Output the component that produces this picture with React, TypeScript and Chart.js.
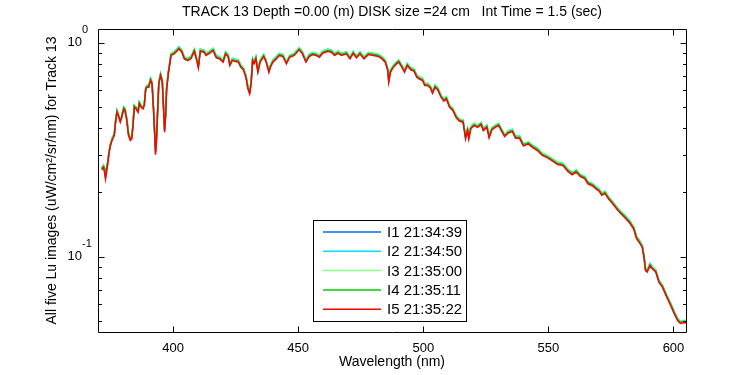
import React, { useEffect, useRef } from "react";
import { Chart, registerables } from "chart.js";

Chart.register(...registerables);

const WAVELENGTH = [
  371.5, 372.2, 372.7, 373.0, 373.8, 374.4, 374.8, 375.6, 376.5, 377.1,
  377.6, 378.1, 378.9, 379.5, 380.3, 380.8, 381.5, 382.2, 382.9, 383.5,
  384.0, 384.5, 385.2, 386.0, 386.5, 387.3, 388.0, 388.5, 389.1, 389.7,
  390.3, 391.0, 391.6, 392.3, 393.0, 393.4, 393.8, 394.3, 395.0, 395.7,
  396.4, 396.6, 397.0, 397.4, 398.1, 398.7, 399.2, 400.4, 401.8, 402.3,
  403.5, 404.5, 405.8, 407.2, 408.5, 409.6, 410.1, 410.9, 412.3, 413.2,
  414.6, 416.0, 417.3, 418.6, 420.0, 421.0, 422.0, 422.7, 423.7, 424.7,
  426.1, 427.1, 428.1, 429.1, 429.9, 430.6, 431.2, 431.8, 432.4, 433.1,
  433.9, 434.8, 436.2, 437.2, 438.3, 438.9, 439.9, 441.2, 442.5, 443.9,
  445.3, 446.6, 448.4, 450.4, 451.7, 453.1, 454.4, 455.8, 457.1, 458.5,
  459.8, 461.9, 463.2, 464.6, 465.9, 467.3, 469.3, 470.7, 472.0, 473.3,
  474.7, 476.3, 478.1, 480.1, 482.1, 483.5, 484.8, 485.8, 486.2, 486.9,
  487.9, 489.3, 490.2, 491.6, 492.5, 493.6, 495.0, 496.3, 497.4, 498.3,
  499.7, 500.6, 501.7, 502.8, 503.7, 504.7, 505.8, 507.1, 508.2, 509.2,
  510.5, 511.8, 513.2, 514.5, 515.9, 516.9, 517.7, 518.2, 519.0, 520.3,
  521.7, 523.1, 524.0, 525.4, 526.3, 527.4, 528.7, 530.1, 531.2, 532.5,
  534.1, 535.6, 536.9, 538.5, 540.0, 542.0, 543.6, 545.6, 547.6, 549.7,
  551.7, 553.7, 555.8, 557.8, 559.5, 561.1, 562.8, 564.5, 565.9, 567.6,
  569.0, 570.3, 571.3, 572.6, 574.0, 575.7, 577.4, 579.0, 580.7, 582.5,
  584.1, 585.2, 586.5, 587.5, 588.2, 588.8, 589.5, 590.6, 591.5, 592.9,
  594.2, 595.6, 597.3, 598.9, 600.3, 601.7, 602.8, 604.4, 605.4,
];

const I1 = [
  .259, .266, .250, .236, .271, .308, .330, .356, .375, .440,
  .481, .464, .433, .456, .498, .490, .440, .375, .357, .362,
  .418, .508, .499, .481, .527, .508, .499, .517, .620, .630,
  .630, .677, .653, .466, .308, .363, .474, .653, .714, .665,
  .441, .390, .457, .607, .727, .810, .886, .901, .934, .952,
  .918, .854, .838, .858, .927, .824, .776, .927, .918, .886,
  .907, .934, .864, .854, .824, .901, .876, .795, .838, .832,
  .824, .781, .759, .701, .619, .587, .653, .838, .810, .854,
  .740, .824, .876, .824, .740, .781, .824, .854, .886, .876,
  .810, .869, .886, .941, .901, .824, .876, .895, .886, .869,
  .907, .927, .918, .886, .907, .886, .901, .854, .905, .864,
  .901, .854, .895, .886, .876, .854, .824, .753, .665, .740,
  .775, .810, .824, .775, .740, .795, .759, .748, .701, .689,
  .677, .641, .641, .625, .590, .629, .612, .565, .542, .555,
  .508, .490, .453, .436, .432, .361, .395, .361, .403, .417,
  .409, .421, .395, .409, .365, .398, .409, .417, .395, .370,
  .386, .391, .363, .363, .335, .342, .330, .319, .302, .294,
  .284, .274, .271, .255, .246, .253, .241, .235, .222, .218,
  .211, .206, .197, .201, .190, .180, .170, .161, .154, .146,
  .137, .124, .118, .113, .101, .0877, .0863, .0924, .0893, .0863,
  .0772, .0732, .0659, .0602, .0551, .0511, .0496, .0501, .0497,
];

const I2 = [
  .262, .269, .252, .240, .274, .311, .333, .359, .378, .444,
  .486, .468, .437, .460, .503, .495, .446, .381, .362, .366,
  .421, .513, .503, .486, .532, .513, .503, .522, .625, .636,
  .636, .684, .659, .472, .312, .369, .480, .659, .721, .671,
  .447, .397, .463, .613, .734, .818, .895, .910, .943, .961,
  .927, .862, .847, .866, .936, .832, .793, .936, .927, .895,
  .916, .943, .872, .862, .832, .910, .885, .808, .847, .841,
  .832, .788, .767, .708, .632, .600, .662, .847, .818, .862,
  .747, .832, .885, .832, .747, .788, .832, .862, .895, .885,
  .818, .877, .895, .950, .910, .832, .885, .904, .895, .877,
  .916, .936, .927, .895, .916, .895, .910, .862, .914, .872,
  .910, .862, .904, .895, .885, .862, .832, .761, .680, .747,
  .783, .818, .832, .783, .747, .803, .767, .755, .708, .696,
  .684, .648, .648, .631, .596, .636, .618, .571, .547, .561,
  .513, .495, .457, .441, .437, .370, .399, .370, .407, .421,
  .413, .425, .399, .413, .374, .402, .413, .421, .399, .374,
  .390, .395, .367, .367, .338, .345, .333, .322, .305, .297,
  .287, .277, .274, .257, .248, .255, .243, .238, .224, .220,
  .213, .208, .199, .203, .192, .181, .171, .163, .156, .148,
  .138, .125, .119, .114, .102, .0890, .0872, .0933, .0902, .0871,
  .0780, .0739, .0665, .0608, .0557, .0516, .0501, .0506, .0502,
];

const I3 = [
  .262, .268, .252, .242, .273, .310, .332, .357, .377, .442,
  .483, .466, .436, .458, .501, .493, .445, .381, .362, .366,
  .420, .510, .501, .483, .529, .510, .501, .519, .622, .632,
  .632, .680, .656, .470, .315, .368, .478, .656, .717, .668,
  .446, .396, .462, .610, .730, .814, .890, .906, .938, .957,
  .922, .858, .843, .862, .931, .828, .785, .931, .922, .890,
  .912, .938, .868, .858, .828, .906, .880, .802, .843, .836,
  .828, .784, .763, .705, .628, .597, .658, .843, .814, .858,
  .744, .828, .880, .828, .744, .784, .828, .858, .890, .880,
  .814, .873, .890, .946, .906, .828, .880, .900, .890, .873,
  .912, .931, .922, .890, .912, .890, .906, .858, .910, .868,
  .906, .858, .900, .890, .880, .858, .828, .757, .675, .744,
  .779, .814, .828, .779, .744, .799, .763, .752, .705, .693,
  .680, .645, .645, .628, .593, .632, .615, .568, .545, .558,
  .510, .493, .455, .439, .435, .368, .397, .368, .405, .419,
  .411, .423, .397, .411, .372, .400, .411, .419, .397, .374,
  .388, .393, .366, .365, .337, .344, .332, .320, .304, .296,
  .286, .275, .272, .256, .247, .254, .242, .237, .223, .219,
  .212, .207, .198, .202, .191, .181, .170, .162, .155, .147,
  .138, .125, .118, .113, .102, .0890, .0870, .0928, .0898, .0867,
  .0776, .0735, .0662, .0605, .0554, .0513, .0499, .0504, .0500,
];

const I4 = [
  .258, .265, .260, .240, .275, .308, .330, .354, .373, .438,
  .479, .462, .432, .454, .497, .488, .440, .376, .357, .362,
  .416, .506, .497, .479, .525, .505, .497, .515, .617, .627,
  .627, .676, .651, .466, .312, .366, .474, .650, .711, .662,
  .442, .393, .458, .605, .724, .806, .882, .897, .929, .947,
  .913, .850, .834, .853, .922, .821, .775, .922, .913, .882,
  .903, .929, .860, .850, .821, .897, .872, .793, .834, .828,
  .821, .777, .756, .699, .620, .590, .652, .834, .806, .850,
  .738, .821, .872, .821, .738, .777, .821, .850, .882, .872,
  .806, .865, .882, .936, .897, .821, .872, .891, .882, .865,
  .903, .922, .913, .882, .903, .882, .897, .850, .901, .860,
  .897, .850, .891, .882, .872, .850, .821, .752, .670, .740,
  .772, .806, .821, .772, .738, .791, .756, .745, .699, .686,
  .674, .639, .639, .623, .590, .627, .610, .563, .540, .553,
  .505, .488, .451, .435, .431, .366, .394, .364, .401, .415,
  .407, .420, .394, .407, .368, .396, .407, .415, .393, .370,
  .384, .389, .363, .362, .334, .341, .329, .318, .301, .293,
  .283, .273, .270, .254, .245, .252, .240, .235, .222, .218,
  .211, .205, .197, .200, .189, .179, .169, .161, .154, .146,
  .137, .124, .117, .112, .101, .0880, .0862, .0920, .0890, .0860,
  .0770, .0730, .0657, .0600, .0550, .0509, .0495, .0500, .0496,
];

const I5 = [
  .255, .262, .245, .231, .267, .303, .325, .350, .369, .433,
  .474, .457, .426, .449, .491, .483, .433, .369, .350, .356,
  .411, .500, .491, .474, .519, .500, .491, .509, .610, .620,
  .620, .667, .643, .457, .300, .356, .466, .643, .703, .655,
  .433, .382, .449, .598, .716, .798, .873, .888, .920, .938,
  .904, .841, .826, .845, .913, .812, .764, .913, .904, .873,
  .894, .920, .851, .841, .812, .888, .863, .783, .826, .820,
  .812, .769, .748, .691, .610, .578, .643, .826, .798, .841,
  .729, .812, .863, .812, .729, .769, .812, .841, .873, .863,
  .798, .856, .873, .927, .888, .812, .863, .882, .873, .856,
  .894, .913, .904, .873, .894, .873, .888, .841, .892, .851,
  .888, .841, .882, .873, .863, .841, .812, .742, .655, .729,
  .764, .798, .812, .764, .729, .783, .748, .737, .691, .679,
  .667, .632, .632, .616, .581, .620, .603, .557, .534, .547,
  .500, .483, .446, .430, .426, .356, .389, .356, .397, .411,
  .403, .415, .389, .403, .360, .392, .403, .411, .389, .365,
  .380, .385, .358, .358, .330, .337, .325, .314, .298, .290,
  .280, .270, .267, .251, .242, .249, .237, .232, .219, .215,
  .208, .203, .194, .198, .187, .177, .167, .159, .152, .144,
  .135, .122, .116, .111, .0996, .0864, .0850, .0910, .0880, .0850,
  .0761, .0721, .0649, .0593, .0543, .0503, .0489, .0494, .0490,
];

const SERIES = [I1, I2, I3, I4, I5];
const SERIES_LABELS = ["I1 21:34:39", "I2 21:34:50", "I3 21:35:00", "I4 21:35:11", "I5 21:35:22"];
const SERIES_COLORS = ["#0070f0", "#00e0f0", "#88ff88", "#00cc00", "#ff0000"];

const X_MIN = 370;
const X_MAX = 605;
const X_TICKS = [400, 450, 500, 550, 600];
const Y_MIN = 0.0446;
const Y_MAX = 1.16;
const Y_MAJOR = [0.1, 1];
const Y_MAJOR_EXP = ["-1", "0"];
const Y_MINOR = [0.05, 0.06, 0.07, 0.08, 0.09, 0.2, 0.3, 0.4, 0.5, 0.6, 0.7, 0.8, 0.9];

const TITLE = "TRACK 13 Depth =0.00 (m) DISK size =24 cm   Int Time = 1.5 (sec)";
const X_TITLE = "Wavelength (nm)";
const Y_TITLE = "All five Lu images (uW/cm\u00B2/sr/nm) for Track 13";

const FONT = "'Liberation Sans', Arial, Helvetica, sans-serif";

const decorPlugin = {
  id: "matlabDecor",
  afterDraw(chart: any) {
    const { ctx, chartArea } = chart;
    const { left, right, top, bottom } = chartArea;
    const xs = chart.scales.x;
    const ys = chart.scales.y;
    ctx.save();
    ctx.strokeStyle = "#000";
    ctx.fillStyle = "#000";
    ctx.lineWidth = 1;
    const L = Math.round(left) + 0.5;
    const R = Math.round(right) + 0.5;
    const T = Math.round(top) + 0.5;
    const B = Math.round(bottom) + 0.5;
    ctx.beginPath();
    ctx.rect(L, T, R - L, B - T);
    ctx.stroke();

    // x ticks (inward, top and bottom)
    ctx.beginPath();
    X_TICKS.forEach((v) => {
      const px = Math.round(xs.getPixelForValue(v)) + 0.5;
      ctx.moveTo(px, B);
      ctx.lineTo(px, B - 6);
      ctx.moveTo(px, T);
      ctx.lineTo(px, T + 6);
    });
    // y ticks
    Y_MAJOR.forEach((v) => {
      const py = Math.round(ys.getPixelForValue(v)) + 0.5;
      ctx.moveTo(L, py);
      ctx.lineTo(L + 6, py);
      ctx.moveTo(R, py);
      ctx.lineTo(R - 6, py);
    });
    Y_MINOR.forEach((v) => {
      const py = Math.round(ys.getPixelForValue(v)) + 0.5;
      ctx.moveTo(L, py);
      ctx.lineTo(L + 3.5, py);
      ctx.moveTo(R, py);
      ctx.lineTo(R - 3.5, py);
    });
    ctx.stroke();

    // x tick labels
    ctx.font = `13px ${FONT}`;
    ctx.textAlign = "center";
    ctx.textBaseline = "middle";
    X_TICKS.forEach((v) => {
      ctx.fillText(String(v), xs.getPixelForValue(v), bottom + 16);
    });
    // x title
    ctx.font = `14px ${FONT}`;
    ctx.fillText(X_TITLE, (left + right) / 2, bottom + 30);

    // y tick labels 10^n
    Y_MAJOR.forEach((v, i) => {
      const py = ys.getPixelForValue(v);
      ctx.font = `13px ${FONT}`;
      ctx.textAlign = "right";
      ctx.fillText("10", left - 16, py);
      ctx.font = `11px ${FONT}`;
      ctx.textAlign = "left";
      ctx.fillText(Y_MAJOR_EXP[i], left - 16, py - 13);
    });

    // y title
    ctx.save();
    ctx.translate(52, (top + bottom) / 2);
    ctx.rotate(-Math.PI / 2);
    ctx.font = `14px ${FONT}`;
    ctx.textAlign = "center";
    ctx.fillText(Y_TITLE, 0, 0);
    ctx.restore();

    // title
    ctx.font = `14px ${FONT}`;
    ctx.textAlign = "center";
    ctx.fillText(TITLE, (left + right) / 2, 12);

    // legend
    const bx = 313.5, by = 220.5, bw = 153, bh = 101;
    ctx.fillStyle = "#fff";
    ctx.fillRect(bx, by, bw, bh);
    ctx.strokeStyle = "#000";
    ctx.lineWidth = 1;
    ctx.strokeRect(bx, by, bw, bh);
    ctx.font = `15px ${FONT}`;
    ctx.textAlign = "left";
    SERIES_LABELS.forEach((lab, i) => {
      const cy = 232 + i * 19.3;
      ctx.strokeStyle = SERIES_COLORS[i];
      ctx.lineWidth = 1.5;
      ctx.beginPath();
      ctx.moveTo(323, cy);
      ctx.lineTo(381, cy);
      ctx.stroke();
      ctx.fillStyle = "#000";
      ctx.fillText(lab, 387, cy + 1);
    });
    ctx.restore();
  },
};

export default function App() {
  const ref = useRef<HTMLCanvasElement | null>(null);
  useEffect(() => {
    document.body.style.margin = "0";
    const canvas = ref.current;
    if (!canvas) return;
    const chart = new Chart(canvas, {
      type: "line",
      data: {
        datasets: SERIES.map((arr, i) => ({
          label: SERIES_LABELS[i],
          data: WAVELENGTH.map((w, j) => ({ x: w, y: arr[j] })),
          borderColor: SERIES_COLORS[i],
          backgroundColor: SERIES_COLORS[i],
          borderWidth: 1.5,
          pointRadius: 0,
          tension: 0,
          fill: false,
          // later series drawn on top (red last), as in the reference
          order: SERIES.length - i,
        })),
      },
      options: {
        responsive: false,
        animation: false,
        devicePixelRatio: 1,
        layout: { padding: { left: 0, right: 64, top: 29, bottom: 0 } },
        plugins: {
          legend: { display: false },
          title: { display: false },
          tooltip: { enabled: false },
        },
        scales: {
          x: {
            type: "linear",
            min: X_MIN,
            max: X_MAX,
            grid: { display: false },
            border: { display: false },
            ticks: { display: false },
            afterBuildTicks: (s: any) => {
              s.ticks = X_TICKS.map((v) => ({ value: v }));
            },
            afterFit: (s: any) => {
              s.height = 43;
            },
          },
          y: {
            type: "logarithmic",
            min: Y_MIN,
            max: Y_MAX,
            grid: { display: false },
            border: { display: false },
            ticks: { display: false },
            afterBuildTicks: (s: any) => {
              s.ticks = Y_MAJOR.map((v) => ({ value: v }));
            },
            afterFit: (s: any) => {
              s.width = 98;
            },
          },
        },
      },
      plugins: [decorPlugin],
    });
    return () => chart.destroy();
  }, []);
  return (
    <div style={{ position: "absolute", left: 0, top: 0, width: 750, height: 375, background: "#fff" }}>
      <canvas ref={ref} width={750} height={375} style={{ display: "block", width: 750, height: 375 }} />
    </div>
  );
}
